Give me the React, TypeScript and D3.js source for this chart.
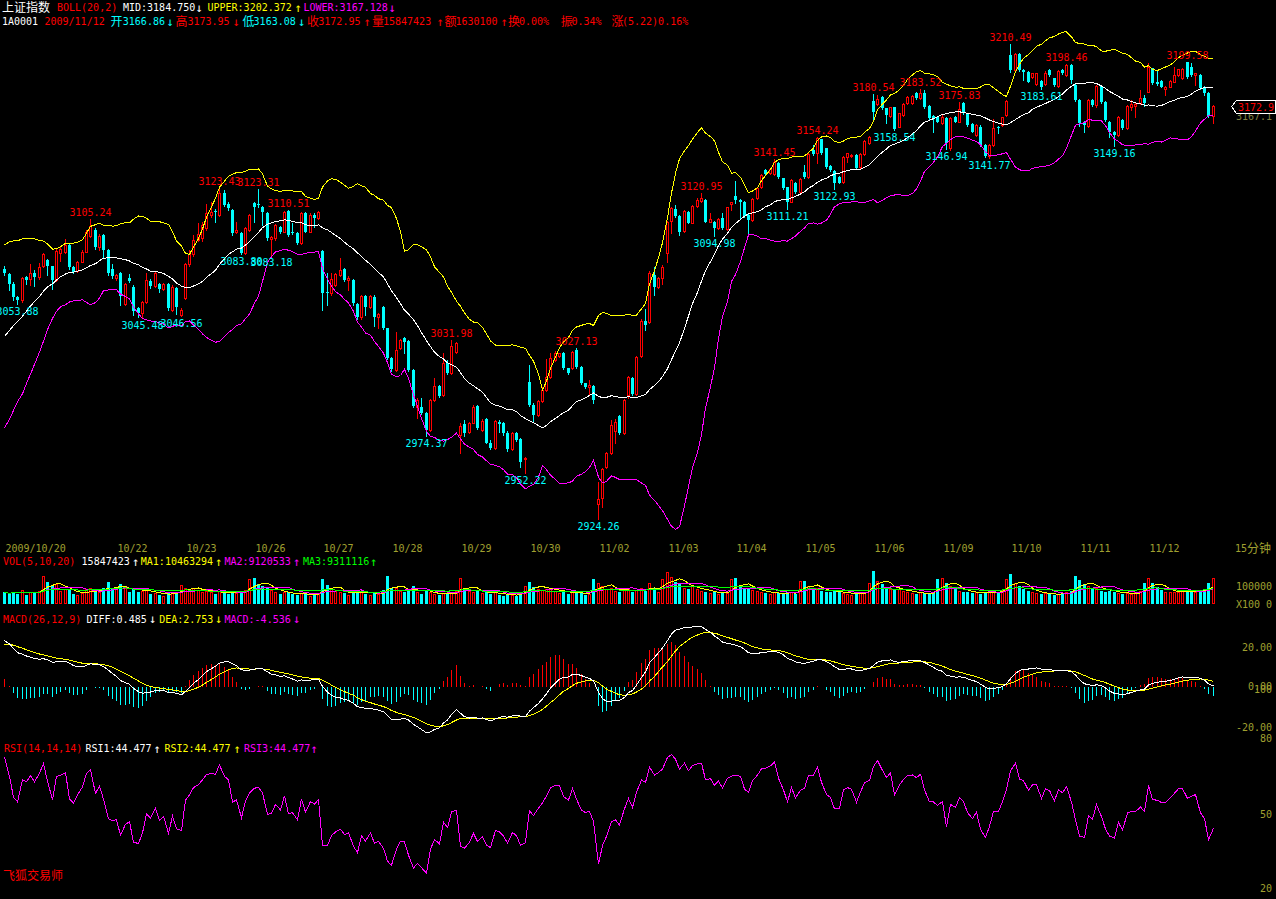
import React from 'react';
import * as d3 from 'd3';

type Bar = [number, number, number, number]; // open, high, low, close

// ---------- DATA (15-minute bars, grouped by trading day) ----------
const dayLabels = ['2009/10/20', '10/21', '10/22', '10/23', '10/26', '10/27', '10/28', '10/29', '10/30',
  '11/02', '11/03', '11/04', '11/05', '11/06', '11/09', '11/10', '11/11', '11/12'];

const barsByDay: Bar[][] = [
  // 10/20 (partial)
  [[3074.7, 3076.7, 3071.5, 3072.3], [3072.0, 3072.5, 3062.3, 3065.9], [3066.0, 3067.0, 3056.0, 3058.0], [3058.0, 3058.5, 3053.88, 3056.0],
   [3056.0, 3070.0, 3055.0, 3069.3], [3070.0, 3070.5, 3066.0, 3068.5], [3069.0, 3078.0, 3065.3, 3072.7], [3072.7, 3074.3, 3064.7, 3070.3],
   [3070.0, 3078.3, 3069.0, 3076.3], [3076.5, 3084.5, 3076.0, 3083.8]],
  // 10/21
  [[3080.4, 3080.8, 3071.3, 3076.8], [3076.8, 3077.0, 3062.7, 3068.3], [3068.3, 3087.4, 3067.5, 3086.0], [3084.8, 3088.0, 3080.0, 3086.8],
   [3085.0, 3092.8, 3084.5, 3089.4], [3089.4, 3090.0, 3075.0, 3076.0], [3076.0, 3077.0, 3072.5, 3073.3], [3073.9, 3080.0, 3073.0, 3079.4],
   [3079.4, 3086.4, 3079.0, 3085.4], [3085.4, 3098.4, 3085.0, 3097.4], [3094.8, 3105.24, 3094.0, 3100.8], [3098.4, 3099.4, 3087.0, 3088.0],
   [3088.0, 3096.0, 3086.5, 3094.5], [3095.4, 3096.0, 3082.4, 3086.4], [3086.4, 3087.0, 3071.5, 3072.3], [3075.0, 3078.0, 3069.5, 3070.5]],
  // 10/22
  [[3069.3, 3072.0, 3068.5, 3071.3], [3072.3, 3073.0, 3053.3, 3058.7], [3053.9, 3066.5, 3053.0, 3065.9], [3069.5, 3072.0, 3067.0, 3067.5],
   [3064.3, 3065.0, 3047.2, 3049.8], [3051.3, 3052.0, 3046.0, 3048.2], [3048.2, 3055.5, 3045.48, 3054.8], [3055.3, 3072.3, 3054.5, 3068.3],
   [3067.9, 3069.0, 3063.5, 3064.7], [3064.7, 3073.0, 3064.0, 3072.3], [3065.9, 3066.5, 3061.0, 3062.7], [3062.7, 3066.5, 3062.0, 3065.9],
   [3065.9, 3066.5, 3050.5, 3051.2], [3050.2, 3065.0, 3049.5, 3064.3], [3063.3, 3064.0, 3047.5, 3052.2], [3047.2, 3051.5, 3046.56, 3050.5]],
  // 10/23
  [[3057.3, 3078.5, 3057.0, 3078.0], [3077.7, 3086.5, 3077.0, 3083.8], [3083.8, 3095.4, 3083.0, 3092.3], [3092.3, 3102.5, 3091.5, 3096.0],
   [3093.5, 3103.0, 3092.0, 3101.5], [3099.4, 3114.0, 3098.5, 3108.5], [3107.5, 3115.0, 3106.5, 3109.5], [3110.0, 3111.0, 3103.5, 3109.0],
   [3107.5, 3123.43, 3107.0, 3120.5], [3120.5, 3122.5, 3113.0, 3113.5], [3114.0, 3115.0, 3110.5, 3111.5], [3110.5, 3111.0, 3095.5, 3096.4],
   [3097.0, 3103.5, 3096.5, 3098.2], [3096.8, 3097.5, 3083.8, 3084.4], [3084.8, 3100.0, 3084.2, 3099.4], [3098.4, 3108.0, 3098.0, 3107.5]],
  // 10/26
  [[3114.5, 3115.5, 3103.5, 3112.5], [3113.8, 3123.31, 3112.5, 3113.2], [3112.5, 3113.0, 3101.5, 3109.5], [3108.9, 3109.5, 3092.5, 3093.4],
   [3093.0, 3095.0, 3083.18, 3094.2], [3093.4, 3102.0, 3092.5, 3101.5], [3100.4, 3101.0, 3096.5, 3097.4], [3097.4, 3109.8, 3097.0, 3109.5],
   [3110.1, 3110.51, 3094.5, 3095.4], [3097.0, 3102.5, 3096.0, 3096.4], [3096.4, 3097.0, 3089.8, 3090.4], [3090.4, 3109.0, 3090.0, 3108.5],
   [3108.5, 3109.0, 3097.0, 3097.4], [3097.4, 3108.5, 3097.0, 3107.5], [3107.5, 3108.5, 3100.5, 3105.5], [3105.5, 3110.0, 3105.0, 3109.5]],
  // 10/27
  [[3086.0, 3086.5, 3050.2, 3060.3], [3061.0, 3072.3, 3053.3, 3060.3], [3060.3, 3072.3, 3059.5, 3068.7], [3065.3, 3072.5, 3064.5, 3071.9],
   [3071.3, 3081.4, 3070.5, 3074.3], [3074.7, 3075.5, 3067.5, 3068.3], [3068.3, 3070.5, 3062.3, 3069.7], [3068.3, 3069.0, 3053.5, 3054.3],
   [3053.9, 3054.5, 3045.0, 3045.8], [3045.8, 3059.5, 3045.0, 3058.7], [3058.7, 3059.3, 3047.2, 3052.2], [3052.2, 3059.3, 3051.5, 3058.7],
   [3058.3, 3059.0, 3040.6, 3046.2], [3046.2, 3048.5, 3039.2, 3047.8], [3052.2, 3052.6, 3038.5, 3039.2], [3039.2, 3039.5, 3020.5, 3021.1]],
  // 10/28
  [[3021.1, 3022.0, 3013.5, 3014.5], [3014.1, 3037.2, 3013.5, 3026.1], [3027.1, 3033.0, 3026.5, 3032.2], [3033.2, 3034.2, 3024.2, 3031.2],
   [3031.7, 3032.2, 3013.5, 3014.1], [3014.1, 3014.5, 2991.5, 2992.4], [2991.6, 2997.0, 2985.0, 2996.0], [2991.6, 2997.0, 2987.5, 2988.4],
   [2988.4, 2989.0, 2974.37, 2977.9], [2977.9, 2996.5, 2977.5, 2996.0], [2996.0, 3009.0, 2995.5, 3004.4], [3004.4, 3005.0, 2997.5, 2998.4],
   [2999.0, 3024.0, 2998.5, 3018.5], [3018.5, 3020.0, 3011.5, 3012.0], [3012.0, 3031.98, 3011.5, 3028.5], [3025.0, 3031.0, 3024.5, 3030.5]],
  // 10/29
  [[2974.9, 2981.9, 2963.9, 2980.3], [2981.5, 2984.0, 2974.0, 2976.0], [2976.9, 2983.0, 2976.0, 2982.4], [2982.4, 2993.0, 2982.0, 2991.6],
   [2992.4, 2993.0, 2978.5, 2979.0], [2978.0, 2984.8, 2977.5, 2983.6], [2984.4, 2985.0, 2969.9, 2970.3], [2970.3, 2971.9, 2966.3, 2966.9],
   [2966.9, 2984.2, 2966.5, 2983.6], [2983.0, 2984.0, 2976.9, 2981.5], [2981.9, 2982.5, 2975.0, 2975.9], [2976.3, 2977.0, 2965.5, 2966.3],
   [2966.3, 2976.5, 2965.8, 2975.9], [2975.9, 2976.5, 2971.0, 2971.9], [2972.3, 2973.0, 2955.5, 2958.9], [2960.3, 2961.5, 2952.22, 2961.1]],
  // 10/30
  [[3007.0, 3017.0, 2992.5, 2993.0], [2993.0, 2994.0, 2983.0, 2987.0], [2987.0, 2996.0, 2986.5, 2995.6], [2995.6, 3004.0, 2995.0, 3002.0],
   [3002.0, 3020.5, 3001.5, 3010.0], [3010.0, 3024.0, 3009.5, 3021.1], [3020.0, 3025.5, 3019.5, 3024.0], [3022.5, 3024.5, 3022.0, 3024.0],
   [3024.0, 3025.0, 3014.5, 3015.1], [3015.1, 3015.5, 3011.5, 3012.0], [3015.1, 3025.5, 3014.5, 3025.0], [3026.1, 3027.13, 3015.5, 3016.1],
   [3016.1, 3016.5, 3005.5, 3006.0], [3006.0, 3006.5, 3003.5, 3004.0], [3004.0, 3008.0, 2999.0, 3005.0], [3004.4, 3005.0, 2994.0, 2996.0]],
  // 11/02
  [[2933.4, 2946.8, 2924.26, 2936.2], [2936.8, 2955.0, 2931.3, 2954.2], [2955.8, 2964.5, 2955.0, 2963.9], [2964.3, 2984.0, 2963.5, 2981.0],
   [2977.0, 2984.5, 2970.0, 2983.0], [2986.4, 2987.0, 2975.5, 2976.3], [2976.3, 2996.5, 2975.5, 2996.0], [2999.0, 3010.5, 2997.0, 3010.1],
   [3009.1, 3010.0, 2999.0, 2999.6], [2999.6, 3022.5, 2999.0, 3022.1], [3022.5, 3044.5, 3022.0, 3043.8], [3043.8, 3050.6, 3038.2, 3041.2],
   [3042.8, 3073.5, 3042.2, 3072.7], [3071.3, 3076.4, 3059.3, 3063.9], [3063.9, 3070.0, 3063.5, 3069.3], [3069.3, 3077.3, 3065.9, 3076.3]],
  // 11/03
  [[3084.8, 3104.0, 3079.4, 3103.5], [3103.8, 3112.5, 3096.8, 3111.5], [3110.9, 3113.5, 3106.5, 3106.9], [3106.9, 3107.5, 3095.4, 3097.4],
   [3098.0, 3110.5, 3097.5, 3110.1], [3109.5, 3110.0, 3102.5, 3102.9], [3102.9, 3113.5, 3102.5, 3112.9], [3112.9, 3117.5, 3112.5, 3116.5],
   [3116.0, 3120.95, 3115.5, 3117.8], [3116.5, 3117.0, 3103.0, 3103.5], [3103.5, 3108.5, 3103.0, 3104.9], [3103.5, 3104.0, 3094.98, 3099.4],
   [3099.4, 3105.5, 3099.0, 3104.9], [3105.5, 3108.5, 3099.0, 3099.4], [3098.8, 3112.5, 3098.5, 3112.1], [3114.1, 3115.5, 3110.5, 3115.1]],
  // 11/04
  [[3118.9, 3128.2, 3114.9, 3116.5], [3116.5, 3117.0, 3105.5, 3115.5], [3115.5, 3116.0, 3106.5, 3106.9], [3107.5, 3108.0, 3096.0, 3104.5],
   [3104.5, 3117.5, 3104.0, 3116.9], [3117.5, 3124.0, 3117.0, 3123.5], [3124.5, 3132.0, 3124.0, 3131.5], [3134.6, 3135.0, 3131.8, 3132.2],
   [3132.6, 3135.5, 3132.0, 3135.0], [3132.2, 3141.45, 3131.8, 3139.6], [3139.0, 3139.5, 3130.0, 3130.6], [3129.6, 3130.0, 3123.0, 3123.5],
   [3124.1, 3124.5, 3111.21, 3115.5], [3115.5, 3129.0, 3115.0, 3128.6], [3126.9, 3127.5, 3121.0, 3121.5], [3121.5, 3129.5, 3121.0, 3128.9]],
  // 11/05
  [[3133.6, 3137.6, 3130.0, 3130.6], [3130.2, 3144.7, 3129.8, 3144.2], [3146.8, 3149.6, 3143.5, 3144.2], [3144.6, 3154.24, 3139.0, 3153.7],
   [3153.1, 3153.5, 3144.0, 3144.6], [3147.6, 3148.0, 3136.0, 3136.6], [3137.0, 3137.5, 3134.0, 3134.6], [3134.2, 3134.6, 3122.93, 3126.5],
   [3130.6, 3131.0, 3126.5, 3127.0], [3127.5, 3143.0, 3127.0, 3142.6], [3142.6, 3145.0, 3139.6, 3144.6], [3143.0, 3144.5, 3142.5, 3143.6],
   [3143.6, 3144.0, 3135.0, 3135.6], [3136.6, 3144.7, 3136.0, 3144.2], [3144.2, 3152.7, 3143.8, 3152.3], [3150.6, 3155.1, 3150.2, 3154.7]],
  // 11/06
  [[3176.3, 3180.54, 3164.5, 3169.7], [3174.3, 3179.5, 3173.8, 3177.1], [3178.7, 3179.2, 3171.2, 3171.7], [3171.7, 3172.0, 3162.7, 3167.7],
   [3167.1, 3172.8, 3166.7, 3172.3], [3172.3, 3172.8, 3158.54, 3159.1], [3160.7, 3169.2, 3160.2, 3168.7], [3167.7, 3174.8, 3167.2, 3174.3],
   [3175.1, 3179.2, 3174.6, 3178.7], [3174.7, 3179.6, 3174.2, 3179.1], [3180.8, 3181.8, 3177.2, 3177.7], [3177.7, 3183.52, 3177.2, 3180.8],
   [3180.8, 3182.5, 3172.2, 3172.7], [3173.1, 3173.6, 3165.2, 3165.7], [3167.1, 3167.6, 3157.7, 3165.7], [3166.7, 3167.2, 3163.2, 3163.7]],
  // 11/09
  [[3162.7, 3167.7, 3162.2, 3166.3], [3165.7, 3166.2, 3146.94, 3150.6], [3147.6, 3166.2, 3146.6, 3165.7], [3166.7, 3167.2, 3163.2, 3163.7],
   [3163.7, 3175.83, 3163.2, 3171.1], [3175.0, 3175.5, 3168.2, 3168.7], [3168.7, 3169.2, 3161.2, 3161.7], [3162.3, 3162.8, 3157.2, 3157.7],
   [3155.7, 3162.2, 3155.2, 3161.7], [3160.7, 3161.7, 3149.1, 3149.6], [3149.6, 3150.1, 3142.5, 3143.0], [3143.0, 3150.1, 3141.77, 3149.6],
   [3149.6, 3165.1, 3149.1, 3159.7], [3160.7, 3161.2, 3157.0, 3159.7], [3161.7, 3166.8, 3161.2, 3166.3], [3167.7, 3176.8, 3167.2, 3176.3]],
  // 11/10
  [[3203.9, 3210.49, 3193.5, 3194.8], [3194.8, 3205.0, 3193.5, 3204.5], [3204.5, 3205.0, 3194.3, 3194.8], [3194.8, 3195.3, 3188.8, 3193.8],
   [3193.8, 3194.3, 3187.3, 3187.8], [3190.8, 3193.3, 3190.3, 3192.8], [3186.4, 3193.3, 3185.9, 3192.8], [3188.2, 3188.7, 3183.61, 3184.8],
   [3186.4, 3194.0, 3185.9, 3192.8], [3194.8, 3195.3, 3191.3, 3191.8], [3189.8, 3190.3, 3185.3, 3185.8], [3185.2, 3195.0, 3184.7, 3194.5],
   [3194.8, 3195.3, 3192.3, 3192.8], [3191.8, 3198.46, 3191.3, 3197.8], [3197.8, 3198.3, 3186.8, 3188.8], [3185.8, 3186.3, 3176.3, 3176.8]],
  // 11/11
  [[3176.7, 3177.2, 3161.1, 3163.1], [3163.7, 3164.2, 3157.7, 3161.7], [3161.1, 3177.2, 3160.6, 3176.7], [3176.7, 3177.2, 3173.2, 3173.7],
   [3173.7, 3185.7, 3172.6, 3185.2], [3185.2, 3185.7, 3174.7, 3175.7], [3175.7, 3176.2, 3164.2, 3164.7], [3163.7, 3164.2, 3154.7, 3157.7],
   [3157.7, 3158.2, 3149.16, 3155.7], [3155.7, 3167.2, 3155.2, 3166.7], [3164.7, 3165.2, 3159.2, 3159.7], [3159.7, 3173.6, 3159.2, 3173.1],
   [3172.3, 3176.7, 3170.7, 3174.3], [3173.1, 3174.8, 3166.7, 3174.3], [3174.7, 3182.8, 3174.2, 3177.7], [3177.7, 3179.8, 3173.1, 3174.7]],
  // 11/12
  [[3181.8, 3198.9, 3181.3, 3196.8], [3195.8, 3196.3, 3186.3, 3186.8], [3187.8, 3194.8, 3185.8, 3186.4], [3188.4, 3188.9, 3184.3, 3184.8],
   [3183.2, 3185.3, 3179.8, 3184.8], [3184.8, 3188.9, 3184.3, 3188.4], [3187.8, 3196.8, 3187.3, 3191.8], [3191.8, 3195.7, 3191.3, 3195.2],
   [3189.8, 3196.0, 3189.3, 3195.2], [3199.4, 3199.58, 3189.9, 3190.4], [3196.5, 3199.3, 3191.3, 3191.8], [3191.8, 3193.3, 3185.8, 3192.8],
   [3191.8, 3192.3, 3183.3, 3183.8], [3184.8, 3185.3, 3179.8, 3180.8], [3180.8, 3181.3, 3166.6, 3167.1], [3166.86, 3173.95, 3163.08, 3172.95]],
];

// volume per bar, millions of shares
const volumesByDay: number[][] = [
  [7.0, 6.0, 7.5, 6.2, 8.5, 5.5, 7.0, 6.5, 7.8, 16.8],
  [13.5, 11.5, 12.0, 8.0, 9.0, 8.5, 6.0, 5.5, 6.5, 9.0, 10.0, 8.0, 7.0, 9.5, 13.5, 10.0],
  [9.0, 12.0, 9.5, 7.0, 10.0, 7.5, 8.0, 8.5, 6.0, 6.5, 5.5, 5.0, 7.0, 6.5, 7.5, 11.5],
  [10.0, 9.0, 9.5, 8.5, 7.5, 8.0, 7.0, 6.0, 8.0, 7.0, 6.0, 8.0, 6.5, 7.5, 8.5, 15.0],
  [15.5, 12.0, 11.0, 10.0, 8.5, 7.0, 6.0, 7.5, 7.0, 6.0, 5.5, 6.5, 6.0, 5.0, 5.5, 6.5],
  [15.0, 11.5, 9.0, 8.0, 7.0, 6.5, 5.5, 7.5, 8.0, 7.0, 6.0, 5.5, 7.0, 6.0, 8.5, 17.0],
  [9.5, 10.0, 8.0, 7.0, 9.0, 11.0, 7.5, 6.0, 8.0, 7.0, 6.0, 5.5, 6.5, 6.0, 7.0, 8.0],
  [15.5, 10.0, 8.0, 7.0, 8.0, 6.5, 7.0, 6.0, 7.5, 5.5, 5.0, 6.0, 5.5, 5.0, 7.5, 11.0],
  [13.5, 10.5, 9.0, 8.5, 9.0, 10.0, 8.0, 6.5, 7.0, 6.0, 7.5, 6.5, 7.0, 5.5, 6.0, 15.0],
  [13.0, 11.0, 9.0, 10.0, 8.0, 7.0, 8.5, 9.0, 7.0, 8.5, 10.0, 8.0, 12.5, 9.5, 7.0, 15.0],
  [19.5, 16.5, 13.5, 12.0, 10.0, 9.0, 11.0, 9.0, 8.0, 7.0, 6.5, 7.5, 6.0, 7.0, 6.5, 15.0],
  [16.0, 11.0, 10.0, 9.0, 8.5, 8.0, 7.5, 6.5, 6.0, 7.0, 6.5, 6.0, 7.5, 7.0, 6.0, 14.0],
  [14.0, 11.0, 9.0, 9.5, 8.0, 7.0, 7.5, 8.0, 7.0, 6.5, 6.0, 5.5, 6.0, 6.5, 7.0, 13.0],
  [20.0, 14.0, 12.0, 10.0, 9.0, 8.5, 9.0, 8.0, 7.0, 6.5, 6.0, 7.0, 6.5, 6.0, 7.0, 15.0],
  [16.0, 12.5, 11.0, 9.0, 8.0, 7.5, 7.0, 6.5, 7.0, 6.0, 7.0, 8.0, 7.5, 7.0, 8.5, 15.0],
  [18.0, 13.0, 11.0, 9.0, 8.0, 7.0, 6.5, 6.0, 6.5, 6.0, 5.5, 6.0, 6.5, 7.0, 8.0, 17.0],
  [14.5, 12.0, 11.0, 9.0, 10.0, 8.0, 7.5, 8.0, 7.0, 6.5, 6.0, 6.5, 6.0, 7.0, 8.0, 12.5],
  [16.0, 12.5, 10.5, 8.5, 7.0, 7.0, 7.5, 7.0, 8.0, 8.5, 7.85, 7.0, 8.0, 9.0, 12.5, 15.85],
];

// closes of the 19 bars before the visible window (for the 20-bar Bollinger window)
const bollWarmup = [2995, 3000, 3004, 3008, 3006, 3012, 3016, 3014, 3020, 3026, 3032, 3040, 3048, 3055, 3060, 3066, 3070, 3068, 3074];
// indicator state at the first visible bar
const macdInit = { ema12Lag: 6, ema26Lag: 29, dea: 21 };
const rsiInit = { up: 2.9, abs: 4.0 };

// marked local highs / lows: [bar index, text]
const highMarks: [number, string][] = [[20, '3105.24'], [50, '3123.43'], [59, '3123.31'], [66, '3110.51'], [104, '3031.98'],
  [133, '3027.13'], [162, '3120.95'], [179, '3141.45'], [189, '3154.24'], [202, '3180.54'], [213, '3183.52'],
  [222, '3175.83'], [234, '3210.49'], [247, '3198.46'], [275, '3199.58']];
const lowMarks: [number, string][] = [[3, '3053.88'], [32, '3045.48'], [41, '3046.56'], [55, '3083.80'], [62, '3083.18'],
  [98, '2974.37'], [121, '2952.22'], [138, '2924.26'], [165, '3094.98'], [182, '3111.21'], [193, '3122.93'],
  [207, '3158.54'], [219, '3146.94'], [229, '3141.77'], [241, '3183.61'], [258, '3149.16']];

// ---------- STYLE ----------
const MONO = "'DejaVu Sans Mono', 'Liberation Mono', monospace";
const CJK = "'Noto Sans CJK SC', 'Noto Sans', sans-serif";
const RED = '#ff0000', CYAN = '#00ffff', YEL = '#ffff00', MAG = '#ff00ff', WHITE = '#ffffff', GREEN = '#00ff00', OLIVE = '#a0a030';

const bars: Bar[] = barsByDay.flat();
const volumes: number[] = volumesByDay.flat();
const dayStarts: number[] = [];
{ let s = 0; barsByDay.forEach(d => { dayStarts.push(s); s += d.length; }); }

function T({ x, y, c, t, cjk, anchor, size }: { x: number; y: number; c: string; t: string; cjk?: boolean; anchor?: string; size?: number }) {
  return (
    <text x={x} y={y} fill={c} fontFamily={cjk ? CJK : MONO} fontSize={size ?? (cjk ? 12 : 10)} textAnchor={(anchor ?? 'start') as any}>{t}</text>
  );
}
// arrow glyph, tall like the terminal font
function A({ x, y, c, up }: { x: number; y: number; c: string; up?: boolean }) {
  return <T x={x} y={y + 0.5} c={c} t={up ? '↑' : '↓'} anchor="middle" size={12} />;
}

export default function App() {
  const N = bars.length;
  const closes = bars.map(b => b[3]);
  const x = d3.scaleLinear().domain([0, N - 1]).range([4.3, 4.3 + 4.3 * (N - 1)]);
  const cx = (i: number) => Math.round(x(i));
  const yP = d3.scaleLinear().domain([2924.26, 3210.49]).range([519, 44]);
  const yV = d3.scaleLinear().domain([0, 10]).range([604, 587.5]);
  const yM = d3.scaleLinear().domain([-20, 20]).range([726.5, 646.5]);
  const yR = d3.scaleLinear().domain([20, 80]).range([888, 738]);

  // Bollinger (20, 2)
  const all = [...bollWarmup, ...closes];
  const mid: number[] = [], up: number[] = [], lo: number[] = [];
  closes.forEach((_, i) => {
    const w = all.slice(i, i + 20);
    const m = d3.mean(w)!; const sd = d3.deviation(w)!;
    mid.push(m); up.push(m + 2 * sd); lo.push(m - 2 * sd);
  });

  // MACD (26,12,9)
  const diff: number[] = [], dea: number[] = [], hist: number[] = [];
  let e12 = closes[0] - macdInit.ema12Lag, e26 = closes[0] - macdInit.ema26Lag, de = macdInit.dea;
  closes.forEach((c, i) => {
    if (i > 0) {
      e12 = (2 * c + 11 * e12) / 13;
      e26 = (2 * c + 25 * e26) / 27;
    }
    const df = e12 - e26;
    if (i > 0) de = (2 * df + 8 * de) / 10;
    diff.push(df); dea.push(de); hist.push(2 * (df - de));
  });

  // RSI 14 (SMA style)
  const rsi: number[] = [];
  let su = rsiInit.up, sa = rsiInit.abs;
  closes.forEach((c, i) => {
    if (i > 0) {
      const d = c - closes[i - 1];
      su = (Math.max(d, 0) + 13 * su) / 14;
      sa = (Math.abs(d) + 13 * sa) / 14;
    }
    rsi.push(sa === 0 ? 50 : (su / sa) * 100);
  });

  // volume MAs
  const vma = (n: number) => volumes.map((_, i) => d3.mean(volumes.slice(Math.max(0, i - n + 1), i + 1))!);
  const vma5 = vma(5), vma10 = vma(10), vma20 = vma(20);

  const lineGen = (yS: d3.ScaleLinear<number, number>) =>
    d3.line<number>().x((_, i) => cx(i) + 0.5).y(v => yS(v));

  const pLine = lineGen(yP), vLine = lineGen(yV), mLine = lineGen(yM), rLine = lineGen(yR);

  // date labels, skipping overlaps
  const dateEls: JSX.Element[] = [];
  let lastRight = -100;
  dayStarts.forEach((s, d) => {
    const lx = cx(s) + 1.5;
    const w = dayLabels[d].length * 6;
    if (lx > lastRight + 4) {
      dateEls.push(<T key={'d' + d} x={lx} y={552} c={OLIVE} t={dayLabels[d]} />);
      lastRight = lx + w;
    }
  });

  const lastY = Math.round(yP(closes[N - 1]));

  return (
    <svg width={1276} height={899} style={{ position: 'absolute', left: 0, top: 0, display: 'block', background: '#000' }}>
      <rect x={0} y={0} width={1276} height={899} fill="#000" />

      {/* candles */}
      <g shapeRendering="crispEdges">
        {bars.map(([o, h, l, c], i) => {
          const X = cx(i);
          const top = Math.round(yP(Math.max(o, c)));
          const bot = Math.round(yP(Math.min(o, c)));
          const hy = Math.round(yP(h)), ly = Math.round(yP(l));
          if (c >= o) {
            return (
              <g key={i}>
                {hy < top && <line x1={X + 0.5} x2={X + 0.5} y1={hy} y2={top} stroke={RED} />}
                {ly > bot && <line x1={X + 0.5} x2={X + 0.5} y1={bot + 1} y2={ly + 1} stroke={RED} />}
                <rect x={X - 0.5} y={top + 0.5} width={2} height={Math.max(bot - top, 0)} fill="#000" stroke={RED} strokeWidth={1} />
              </g>
            );
          }
          return (
            <g key={i}>
              <line x1={X + 0.5} x2={X + 0.5} y1={hy} y2={ly + 1} stroke={CYAN} />
              <rect x={X - 1} y={top} width={3} height={Math.max(bot - top, 1)} fill={CYAN} />
            </g>
          );
        })}
      </g>

      {/* bollinger */}
      <g fill="none" strokeWidth={1} shapeRendering="crispEdges">
        <path d={pLine(mid)!} stroke={WHITE} />
        <path d={pLine(up)!} stroke={YEL} />
        <path d={pLine(lo)!} stroke={MAG} />
      </g>

      {/* high / low marks */}
      {highMarks.map(([i, t]) => (
        <T key={'h' + i} x={cx(i) + 0.5} y={Math.round(yP(parseFloat(t))) - 3} c={RED} t={t} anchor="middle" />
      ))}
      {lowMarks.map(([i, t]) => (
        <T key={'l' + i} x={cx(i) + 0.5} y={Math.round(yP(parseFloat(t))) + 11} c={CYAN} t={t} anchor="middle" />
      ))}

      {/* right price tag */}
      <g shapeRendering="crispEdges">
        <T x={1236} y={120} c="#808040" t="3167.1" />
        <path d={`M1231.5,${lastY + 0.5} L1236.5,${lastY - 5.5} L1275.5,${lastY - 5.5} L1275.5,${lastY + 7.5} L1236.5,${lastY + 7.5} Z`} fill="#000" stroke="#fff" />
        <T x={1238} y={lastY + 5} c={RED} t={closes[N - 1].toFixed(1)} />
      </g>

      {/* header */}
      <T x={2} y={12} c={WHITE} t="上证指数" cjk />
      <T x={57} y={11} c={RED} t="BOLL(20,2)" />
      <T x={123} y={11} c={WHITE} t="MID:3184.750" />
      <A x={199} y={11} c={WHITE} />
      <T x={207.5} y={11} c={YEL} t="UPPER:3202.372" />
      <A x={298} y={11} c={YEL} up />
      <T x={303.5} y={11} c={MAG} t="LOWER:3167.128" />
      <A x={392} y={11} c={MAG} />

      <T x={2} y={25} c={WHITE} t="1A0001" />
      <T x={44.5} y={25} c={RED} t="2009/11/12" />
      <T x={110.5} y={25.5} c={CYAN} t="开" cjk />
      <T x={122.8} y={25} c={CYAN} t="3166.86" />
      <A x={170} y={25} c={CYAN} />
      <T x={175.4} y={25.5} c={RED} t="高" cjk />
      <T x={187.5} y={25} c={RED} t="3173.95" />
      <A x={236} y={25} c={RED} />
      <T x={242.4} y={25.5} c={CYAN} t="低" cjk />
      <T x={253.6} y={25} c={CYAN} t="3163.08" />
      <A x={301.5} y={25} c={CYAN} />
      <T x={307} y={25.5} c={RED} t="收" cjk />
      <T x={318.3} y={25} c={RED} t="3172.95" />
      <A x={367} y={25} c={RED} up />
      <T x={371.9} y={25.5} c={RED} t="量" cjk />
      <T x={383} y={25} c={RED} t="15847423" />
      <A x={440} y={25} c={RED} up />
      <T x={444.6} y={25.5} c={RED} t="额" cjk />
      <T x={455.4} y={25} c={RED} t="1630100" />
      <A x={504} y={25} c={RED} up />
      <T x={508} y={25.5} c={RED} t="换" cjk />
      <T x={519} y={25} c={RED} t="0.00%" />
      <T x={560.7} y={25.5} c={RED} t="振" cjk />
      <T x={571.4} y={25} c={RED} t="0.34%" />
      <T x={611.6} y={25.5} c={RED} t="涨" cjk />
      <T x={622} y={25} c={RED} t="(5.22)0.16%" />

      {/* date axis */}
      {dateEls}
      <T x={1235} y={552} c={OLIVE} t="15" />
      <T x={1247} y={553} c={OLIVE} t="分钟" cjk />

      {/* volume panel */}
      <T x={3} y={565} c={RED} t="VOL(5,10,20)" />
      <T x={81.6} y={565} c={WHITE} t="15847423" />
      <A x={135.5} y={565} c={WHITE} up />
      <T x={140.8} y={565} c={YEL} t="MA1:10463294" />
      <A x={218.5} y={565} c={YEL} up />
      <T x={224.5} y={565} c={MAG} t="MA2:9120533" />
      <A x={296.5} y={565} c={MAG} up />
      <T x={303} y={565} c={GREEN} t="MA3:9311116" />
      <A x={373.5} y={565} c={GREEN} up />
      <g shapeRendering="crispEdges">
        {volumes.map((v, i) => {
          const X = cx(i);
          const top = Math.round(yV(v));
          const [o, , , c] = bars[i];
          return c >= o
            ? <rect key={i} x={X - 0.5} y={top + 0.5} width={2} height={604 - top - 1} fill="#000" stroke={RED} />
            : <rect key={i} x={X - 1} y={top} width={3} height={604 - top} fill={CYAN} />;
        })}
      </g>
      <g fill="none" shapeRendering="crispEdges">
        <path d={vLine(vma5)!} stroke={YEL} />
        <path d={vLine(vma10)!} stroke={MAG} />
        <path d={vLine(vma20)!} stroke={GREEN} />
      </g>
      <T x={1272} y={590} c={OLIVE} t="100000" anchor="end" />
      <T x={1236} y={608} c={OLIVE} t="X100" />
      <T x={1272} y={608} c={OLIVE} t="0" anchor="end" />

      {/* MACD panel */}
      <T x={3} y={622.5} c={RED} t="MACD(26,12,9)" />
      <T x={86.5} y={622.5} c={WHITE} t="DIFF:0.485" />
      <A x={152.5} y={622.5} c={WHITE} />
      <T x={159.2} y={622.5} c={YEL} t="DEA:2.753" />
      <A x={218.5} y={622.5} c={YEL} />
      <T x={224.5} y={622.5} c={MAG} t="MACD:-4.536" />
      <A x={296.5} y={622.5} c={MAG} />
      <g shapeRendering="crispEdges">
        {hist.map((h, i) => (
          <line key={i} x1={cx(i) + 0.5} x2={cx(i) + 0.5} y1={Math.round(yM(0))} y2={Math.round(yM(h))} stroke={h >= 0 ? RED : CYAN} />
        ))}
      </g>
      <g fill="none" shapeRendering="crispEdges">
        <path d={mLine(dea)!} stroke={YEL} />
        <path d={mLine(diff)!} stroke={WHITE} />
      </g>
      <T x={1272} y={651} c={OLIVE} t="20.00" anchor="end" />
      <T x={1272} y={690} c={OLIVE} t="0.00" anchor="end" />
      <T x={1272} y={693} c={OLIVE} t="100" anchor="end" />
      <T x={1272} y={731} c={OLIVE} t="-20.00" anchor="end" />

      {/* RSI panel */}
      <T x={4} y={752} c={RED} t="RSI(14,14,14)" />
      <T x={85.4} y={752} c={WHITE} t="RSI1:44.477" />
      <A x={157} y={752} c={WHITE} up />
      <T x={164.4} y={752} c={YEL} t="RSI2:44.477" />
      <A x={237} y={752} c={YEL} up />
      <T x={244} y={752} c={MAG} t="RSI3:44.477" />
      <A x={314} y={752} c={MAG} up />
      <g fill="none" shapeRendering="crispEdges">
        <path d={rLine(rsi)!} stroke={WHITE} />
        <path d={rLine(rsi)!} stroke={YEL} />
        <path d={rLine(rsi)!} stroke={MAG} />
      </g>
      <T x={1272} y={742} c={OLIVE} t="80" anchor="end" />
      <T x={1272} y={818} c={OLIVE} t="50" anchor="end" />
      <T x={1272} y={892} c={OLIVE} t="20" anchor="end" />
      <T x={3} y={880} c={RED} t="飞狐交易师" cjk />
    </svg>
  );
}
